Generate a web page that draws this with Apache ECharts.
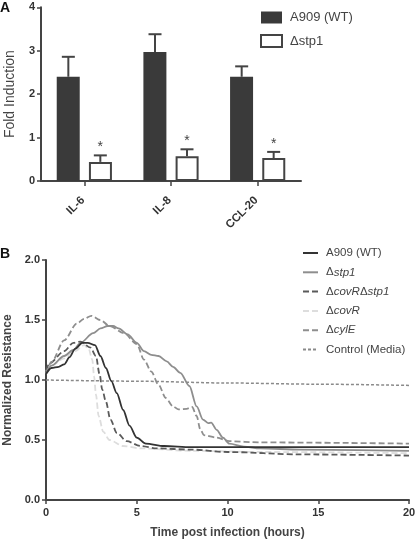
<!DOCTYPE html>
<html>
<head>
<meta charset="utf-8">
<script src="https://cdn.jsdelivr.net/npm/echarts@6/dist/echarts.min.js"></script>
<style>
html,body{margin:0;padding:0;background:#fff;}
#c{width:416px;height:542px;}
</style>
</head>
<body>
<div id="c"></div>
<script>
// ---------- Panel A data ----------
var categories = ['IL-6', 'IL-8', 'CCL-20'];
var wtValues = [2.40, 2.97, 2.40];
var wtErrors = [0.46, 0.41, 0.24];
var stp1Values = [0.44, 0.57, 0.53];
var stp1Errors = [0.15, 0.16, 0.14];
var yTicksA = [0, 1, 2, 3, 4];

// ---------- Panel B data ([hours, normalized resistance]) ----------
var wtCurve = [[0,1.05],[0.3,1.10],[0.7,1.11],[1.0,1.13],[1.3,1.19],[1.6,1.26],[2.0,1.31],[2.3,1.31],[2.7,1.29],[3.0,1.20],[3.3,1.10],[3.6,0.99],[3.9,0.89],[4.25,0.75],[4.6,0.62],[5.0,0.52],[5.5,0.47],[6.5,0.45],[8,0.44],[12,0.44],[20,0.44]];
var stp1Curve = [[0,1.06],[0.3,1.12],[1.0,1.20],[1.5,1.25],[1.9,1.31],[2.6,1.39],[3.0,1.43],[3.4,1.45],[3.7,1.45],[4.0,1.43],[4.5,1.38],[5.0,1.31],[5.4,1.24],[5.8,1.21],[6.2,1.20],[6.65,1.155],[7.0,1.11],[7.4,1.06],[7.9,0.95],[8.3,0.78],[8.65,0.67],[8.95,0.64],[9.1,0.645],[9.4,0.585],[9.75,0.52],[10.1,0.47],[10.9,0.445],[11.8,0.43],[14,0.42],[20,0.41]];
var covRstp1Curve = [[0,1.08],[0.2,1.14],[1.0,1.24],[1.5,1.31],[1.9,1.32],[2.45,1.27],[2.75,1.20],[2.95,1.05],[3.1,0.92],[3.3,0.82],[3.55,0.67],[3.9,0.56],[4.45,0.49],[5.2,0.45],[6.1,0.43],[8,0.42],[10,0.40],[14,0.38],[20,0.37]];
var covRCurve = [[0,1.07],[0.3,1.12],[1.0,1.18],[1.6,1.24],[2.1,1.29],[2.35,1.26],[2.55,1.17],[2.65,1.03],[2.75,0.88],[2.9,0.70],[3.15,0.57],[3.5,0.50],[4.25,0.45],[5.2,0.43],[8,0.41],[12,0.40],[20,0.39]];
var cylECurve = [[0,1.05],[0.3,1.15],[1.0,1.33],[1.7,1.47],[2.1,1.51],[2.5,1.535],[3.0,1.50],[3.5,1.45],[4.3,1.39],[5.0,1.30],[5.4,1.17],[5.8,1.07],[6.2,0.96],[6.6,0.85],[7.0,0.78],[7.3,0.755],[7.75,0.76],[8.05,0.775],[8.3,0.70],[8.5,0.59],[8.7,0.54],[9.4,0.52],[10.1,0.49],[11.8,0.48],[20,0.47]];
var controlCurve = [[0,1.00],[5,0.99],[10,0.975],[15,0.965],[20,0.955]];

var seriesNamesB = ['A909 (WT)', 'Δstp1', 'ΔcovRΔstp1', 'ΔcovR', 'ΔcylE', 'Control (Media)'];

var FONT = '"Liberation Sans", Arial, sans-serif';
var AX = '#444';

var chart = echarts.init(document.getElementById('c'), null, {renderer: 'canvas'});

function errRender(offsetSign, star) {
  return function (params, api) {
    var i = api.value(0), v = api.value(1), e = api.value(2);
    var band = api.size([1, 0])[0];
    var off = offsetSign * 16 * (band / 86.7);
    var p0 = api.coord([i, v]);
    var p1 = api.coord([i, v + e]);
    var x = p0[0] + off;
    var children = [
      {type: 'line', shape: {x1: x, y1: p0[1], x2: x, y2: p1[1]}, style: {stroke: AX, lineWidth: 2}},
      {type: 'line', shape: {x1: x - 6.5, y1: p1[1], x2: x + 6.5, y2: p1[1]}, style: {stroke: AX, lineWidth: 2}}
    ];
    if (star) {
      children.push({type: 'text', style: {text: '*', x: x, y: p1[1] - 1, align: 'center', verticalAlign: 'bottom', fontSize: 14, fontFamily: FONT, fill: '#444'}});
    }
    return {type: 'group', children: children};
  };
}

var richB = {
  n: {fontSize: 11.5, fontFamily: FONT, color: '#444'},
  it: {fontSize: 11.5, fontFamily: FONT, color: '#444', fontStyle: 'italic'}
};
// internal ids for panel B series (kept distinct from panel A bar series names)
var idsB = seriesNamesB.map(function (n) { return 'B ' + n; });
var legendFmtB = {
  'B A909 (WT)': '{n|A909 (WT)}',
  'B Δstp1': '{n|Δ}{it|stp1}',
  'B ΔcovRΔstp1': '{n|Δ}{it|covR}{n|Δ}{it|stp1}',
  'B ΔcovR': '{n|Δ}{it|covR}',
  'B ΔcylE': '{n|Δ}{it|cylE}',
  'B Control (Media)': '{n|Control (Media)}'
};

function axisBase() {
  return {
    axisLine: {show: true, lineStyle: {color: AX, width: 2}},
    axisTick: {show: true, lineStyle: {color: AX, width: 1.5}, length: 4},
    splitLine: {show: false}
  };
}

var lineStyles = [
  {color: '#333333', width: 1.8, type: 'solid'},
  {color: '#8e8e8e', width: 1.8, type: 'solid'},
  {color: '#5a5a5a', width: 1.8, type: [6, 3]},
  {color: '#dddddd', width: 1.8, type: [6, 3]},
  {color: '#8e8e8e', width: 1.8, type: [6, 3]},
  {color: '#8a8a8a', width: 1.5, type: [3, 2]}
];
var curves = [wtCurve, stp1Curve, covRstp1Curve, covRCurve, cylECurve, controlCurve];

var lineSeries = curves.map(function (d, k) {
  return {
    name: idsB[k], type: 'line', xAxisIndex: 1, yAxisIndex: 1,
    data: d, smooth: 0.3, smoothMonotone: 'x', symbol: 'none', showSymbol: false,
    lineStyle: lineStyles[k], itemStyle: {color: lineStyles[k].color},
    z: k === 0 ? 10 : (k === 3 ? 2 : 5), animation: false
  };
});

var option = {
  animation: false,
  textStyle: {fontFamily: FONT},
  graphic: [
    {type: 'text', left: 0, top: 1, style: {text: 'A', fontSize: 14, fontWeight: 'bold', fontFamily: FONT, fill: '#111'}},
    {type: 'text', left: 0, top: 247, style: {text: 'B', fontSize: 14, fontWeight: 'bold', fontFamily: FONT, fill: '#111'}}
  ],
  grid: [
    {left: 41, top: 7.3, width: 260, height: 173.7, outerBoundsMode: 'none', containLabel: false},
    {left: 46, top: 260, width: 363, height: 240, outerBoundsMode: 'none', containLabel: false}
  ],
  legend: [
    {
      orient: 'vertical', left: 260, top: 11, padding: 0, itemWidth: 21, itemHeight: 12, itemGap: 10,
      icon: 'rect',
      data: ['A909 (WT)', 'Δstp1'].map(function (n) { return {name: n}; }),
      textStyle: {fontSize: 13, color: '#444', fontFamily: FONT, padding: [0, 0, 0, 3]},
      selectedMode: false
    },
    {
      orient: 'vertical', left: 302, top: 247, padding: 0, itemWidth: 15, itemHeight: 12, itemGap: 7.3,
      itemStyle: {color: 'rgba(0,0,0,0)', borderWidth: 0},
      data: idsB.map(function (n) { return {name: n}; }),
      formatter: function (name) { return legendFmtB[name]; },
      textStyle: {rich: richB, padding: [0, 0, 0, 3]},
      selectedMode: false
    }
  ],
  xAxis: [
    Object.assign(axisBase(), {
      type: 'category', gridIndex: 0, data: categories,
      axisTick: {show: true, alignWithLabel: true, length: 5, lineStyle: {color: AX, width: 1.5}},
      axisLabel: {rotate: 45, fontSize: 11.5, fontWeight: 'bold', color: '#333', margin: 16, padding: [0, 2, 0, 0], fontFamily: FONT}
    }),
    Object.assign(axisBase(), {
      type: 'value', gridIndex: 1, min: 0, max: 20, interval: 5,
      axisLabel: {fontSize: 11, fontWeight: 'bold', color: '#333', margin: 7, fontFamily: FONT},
      name: 'Time post infection (hours)', nameLocation: 'middle', nameGap: 27,
      nameTextStyle: {fontSize: 12, fontWeight: 'bold', color: '#444', fontFamily: FONT}
    })
  ],
  yAxis: [
    Object.assign(axisBase(), {
      type: 'value', gridIndex: 0, min: yTicksA[0], max: yTicksA[yTicksA.length - 1], interval: 1,
      axisLabel: {fontSize: 11, fontWeight: 'bold', color: '#333', margin: 6, fontFamily: FONT},
      name: 'Fold Induction', nameLocation: 'middle', nameGap: 24,
      nameTextStyle: {fontSize: 14, color: '#444', fontFamily: FONT}
    }),
    Object.assign(axisBase(), {
      type: 'value', gridIndex: 1, min: 0, max: 2, interval: 0.5,
      axisLabel: {fontSize: 11, fontWeight: 'bold', color: '#333', margin: 6, fontFamily: FONT,
        formatter: function (v) { return v.toFixed(1); }},
      name: 'Normalized Resistance', nameLocation: 'middle', nameGap: 31,
      nameTextStyle: {fontSize: 12, fontWeight: 'bold', color: '#444', fontFamily: FONT}
    })
  ],
  series: [
    {
      name: 'A909 (WT)', type: 'bar', xAxisIndex: 0, yAxisIndex: 0, data: wtValues,
      barWidth: 23, barGap: '40%',
      itemStyle: {color: '#3a3a3a'}
    },
    {
      name: 'Δstp1', type: 'bar', xAxisIndex: 0, yAxisIndex: 0, data: stp1Values,
      barWidth: 23, barGap: '40%',
      itemStyle: {color: '#ffffff', borderColor: '#444', borderWidth: 2}
    },
    {
      type: 'custom', xAxisIndex: 0, yAxisIndex: 0,
      data: wtValues.map(function (v, i) { return [i, v, wtErrors[i]]; }),
      renderItem: errRender(-1, false), z: 3
    },
    {
      type: 'custom', xAxisIndex: 0, yAxisIndex: 0,
      data: stp1Values.map(function (v, i) { return [i, v, stp1Errors[i]]; }),
      renderItem: errRender(1, true), z: 3
    }
  ].concat(lineSeries)
};

chart.setOption(option);
</script>
</body>
</html>
